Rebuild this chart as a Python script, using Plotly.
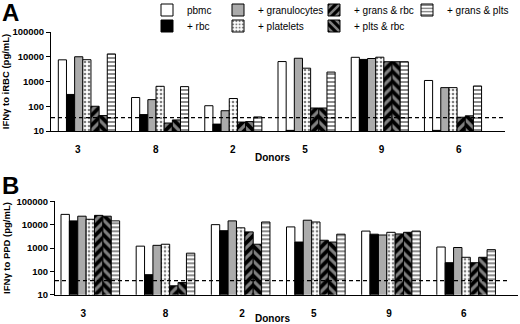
import plotly.graph_objects as go

donors = ["3", "8", "2", "5", "9", "6"]
series_names = ["pbmc", "+ rbc", "+ granulocytes", "+ platelets",
                "+ grans & rbc", "+ plts & rbc", "+ grans & plts"]

# Panel A: IFN-gamma to iRBC (pg/mL)
pbmc_a = [7500, 225, 105, 6400, 9500, 1100]
rbc_a = [300, 46, 19, 10.6, 7800, 10.6]
gran_a = [10000, 185, 66, 8700, 8500, 565]
plt_a = [7600, 640, 205, 3450, 9600, 565]
gr_rbc_a = [100, 21, 23, 85, 6300, 36]
pl_rbc_a = [42, 28, 24, 85, 6300, 41]
gr_pl_a = [13000, 620, 37, 2400, 6300, 660]
thr_a = 35

# Panel B: IFN-gamma to PPD (pg/mL)
pbmc_b = [27500, 1200, 10000, 8000, 5300, 1100]
rbc_b = [14500, 72, 5500, 1800, 3900, 235]
gran_b = [23000, 1300, 14500, 15500, 3600, 1050]
plt_b = [17000, 1450, 7300, 13000, 4700, 400]
gr_rbc_b = [25000, 24, 4900, 2150, 4000, 235]
pl_rbc_b = [23000, 33, 1450, 1800, 4700, 400]
gr_pl_b = [14500, 600, 13000, 3900, 5300, 850]
thr_b = 40

y_tick_vals = [10, 100, 1000, 10000, 100000]
y_tick_text = ["10", "100", "1000", "10000", "100000"]

data_a = [pbmc_a, rbc_a, gran_a, plt_a, gr_rbc_a, pl_rbc_a, gr_pl_a]
data_b = [pbmc_b, rbc_b, gran_b, plt_b, gr_rbc_b, pl_rbc_b, gr_pl_b]

FONT = "Arial, Liberation Sans, Helvetica, sans-serif"

styles = [
    dict(color="white", pattern=dict(shape="")),
    dict(color="black", pattern=dict(shape="")),
    dict(color="#ababab", pattern=dict(shape="")),
    dict(color="white", pattern=dict(shape=".", fgcolor="black", bgcolor="white",
                                     size=4, solidity=0.35, fillmode="overlay")),
    dict(color="black", pattern=dict(shape="/", fgcolor="white", bgcolor="black",
                                     size=7, solidity=0.45, fillmode="overlay")),
    dict(color="black", pattern=dict(shape="\\", fgcolor="white", bgcolor="black",
                                     size=7, solidity=0.45, fillmode="overlay")),
    dict(color="white", pattern=dict(shape="-", fgcolor="black", bgcolor="white",
                                     size=4, solidity=0.45, fillmode="overlay")),
]
legend_ids = ["legend", "legend2", "legend3", "legend4", "legend5", "legend6", "legend7"]
# legend placement (px): box x, row-centre y
legend_px = [(147, 10), (147, 26), (218, 10), (218, 26), (314, 10), (314, 26), (407, 10)]

x_idx = list(range(len(donors)))
range_a = [-0.49, 5.71]
range_b = [-0.47, 5.69]
tick_pos_a = [-0.123, 0.941, 1.992, 2.978, 4.025, 5.079]
tick_pos_b = [-0.094, 1.001, 2.02, 2.973, 3.975, 4.968]

fig = go.Figure()
for i, name in enumerate(series_names):
    st = styles[i]
    fig.add_trace(go.Bar(
        x=x_idx, y=data_a[i], name=name, xaxis="x", yaxis="y",
        marker=dict(color=st["color"], pattern=st["pattern"],
                    line=dict(color="black", width=1)),
        legend=legend_ids[i], showlegend=True, offsetgroup=str(i),
    ))
for i, name in enumerate(series_names):
    st = styles[i]
    fig.add_trace(go.Bar(
        x=x_idx, y=data_b[i], name=name, xaxis="x2", yaxis="y2",
        marker=dict(color=st["color"], pattern=st["pattern"],
                    line=dict(color="black", width=1)),
        showlegend=False, offsetgroup=str(i),
    ))

fig.add_trace(go.Scatter(x=range_a, y=[thr_a, thr_a], mode="lines", xaxis="x", yaxis="y",
                         line=dict(color="black", width=1.3, dash="4px,3px"),
                         showlegend=False, hoverinfo="skip"))
fig.add_trace(go.Scatter(x=[range_b[0], 5.58], y=[thr_b, thr_b], mode="lines", xaxis="x2", yaxis="y2",
                         line=dict(color="black", width=1.3, dash="4px,3px"),
                         showlegend=False, hoverinfo="skip"))

yax = dict(type="log", range=[1, 5], tickvals=y_tick_vals, ticktext=y_tick_text,
           showline=True, linecolor="black", linewidth=1, ticks="outside", ticklen=4,
           tickcolor="black", showgrid=False, zeroline=False, automargin=False,
           tickfont=dict(family=FONT, size=9.5, color="black", weight="bold"))
xax = dict(showline=True, linecolor="black", linewidth=1, ticks="", ticklen=0, showgrid=False,
           zeroline=False, automargin=False, tickmode="array",
           ticktext=donors, ticklabelstandoff=9,
           tickfont=dict(family=FONT, size=10, color="black", weight="bold"))

legend_common = dict(orientation="v", yanchor="middle", xanchor="left",
                     font=dict(family=FONT, size=10, color="black"),
                     bgcolor="rgba(0,0,0,0)", tracegroupgap=0, itemclick=False)

legends = {}
for lid, (lx, ly) in zip(legend_ids, legend_px):
    legends[lid] = dict(legend_common, x=lx / 520, y=1 - ly / 324)

fig.update_layout(
    width=520, height=324,
    margin=dict(l=0, r=0, t=0, b=0, autoexpand=False),
    paper_bgcolor="white", plot_bgcolor="white",
    hovermode=False,
    barmode="group", bargap=0.22, bargroupgap=0,
    xaxis=dict(xax, domain=[51 / 520, 505 / 520], range=range_a, anchor="y", tickvals=tick_pos_a),
    yaxis=dict(yax, domain=[1 - 131 / 324, 1 - 32 / 324], anchor="x",
               title=dict(text="IFNγ to iRBC (pg/mL)", standoff=4,
                          font=dict(family=FONT, size=9.5, color="black", weight="bold"))),
    xaxis2=dict(xax, domain=[55 / 520, 518 / 520], range=range_b, anchor="y2", tickvals=tick_pos_b),
    yaxis2=dict(yax, domain=[1 - 294.7 / 324, 1 - 201.3 / 324], anchor="x2",
                title=dict(text="IFNγ to PPD (pg/mL)", standoff=4,
                           font=dict(family=FONT, size=9.5, color="black", weight="bold"))),
    annotations=[
        dict(text="<b>A</b>", x=0, y=1 - 13 / 324, xref="paper", yref="paper",
             xanchor="left", yanchor="middle", showarrow=False,
             font=dict(family=FONT, size=24, color="black")),
        dict(text="<b>B</b>", x=0, y=1 - 185 / 324, xref="paper", yref="paper",
             xanchor="left", yanchor="middle", showarrow=False,
             font=dict(family=FONT, size=24, color="black")),
        dict(text="<b>Donors</b>", x=272 / 520, y=1 - 158 / 324, xref="paper", yref="paper",
             xanchor="center", yanchor="middle", showarrow=False,
             font=dict(family=FONT, size=10, color="black")),
        dict(text="<b>Donors</b>", x=272 / 520, y=1 - 318 / 324, xref="paper", yref="paper",
             xanchor="center", yanchor="middle", showarrow=False,
             font=dict(family=FONT, size=10, color="black")),
    ],
    **legends,
)

fig.write_html("out.html",
               config=dict(staticPlot=True, displayModeBar=False),
               post_script="document.body.style.margin='0';document.body.style.padding='0';")
